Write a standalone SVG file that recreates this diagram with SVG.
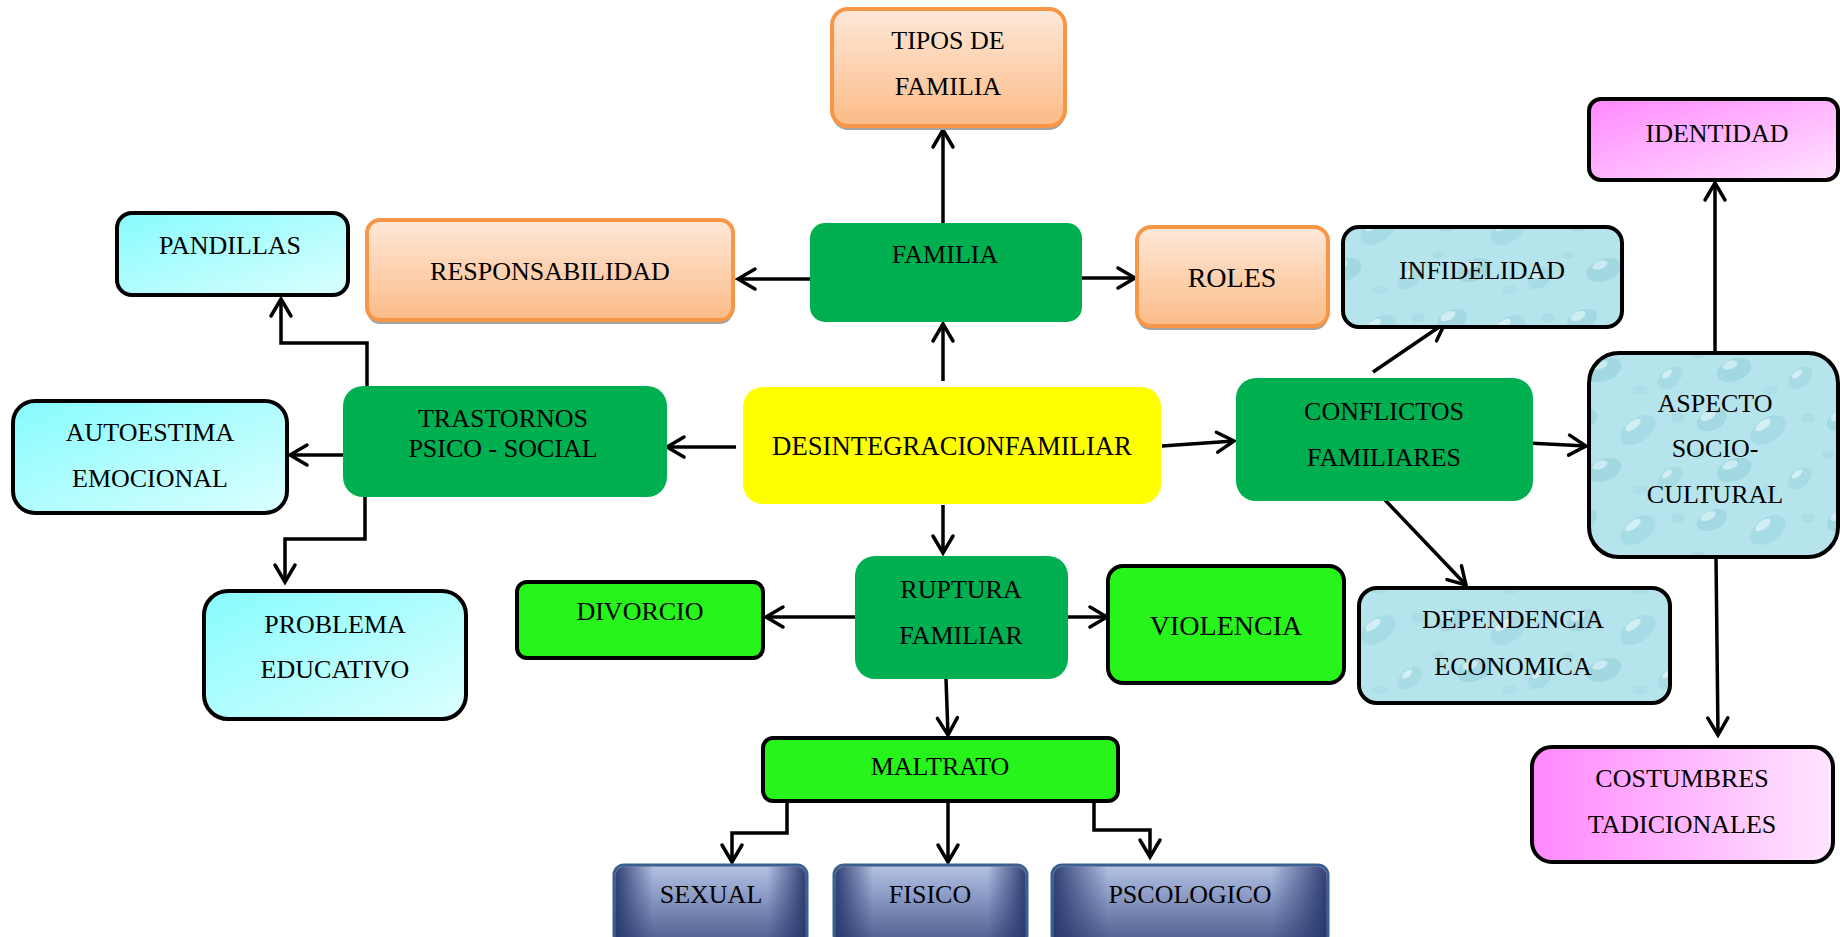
<svg xmlns="http://www.w3.org/2000/svg" width="1840" height="937" viewBox="0 0 1840 937">
<style>
text{font-family:"Liberation Serif","Times New Roman",serif;font-size:26px;fill:#000;text-anchor:middle}
.big{font-size:28px}
.orange{fill:url(#gOrange);stroke:#f79646;stroke-width:4}
.shadow{fill:#a3a3a3}
.green{fill:#00b050}
.yellow{fill:#ffff00}
.lime{fill:#26f41b;stroke:#000;stroke-width:4}
.cyan{fill:url(#gCyan);stroke:#000;stroke-width:4}
.water{fill:url(#pWater);stroke:#000;stroke-width:4}
.pinkD{fill:url(#gPinkD);stroke:#000;stroke-width:4}
.pinkH{fill:url(#gPinkH);stroke:#000;stroke-width:4}
.navy{fill:url(#gNavyV);stroke:#3b5f8f;stroke-width:3}
.navyEdge{fill:url(#gNavyH);stroke:none}
.conn path,.conn line{fill:none;stroke:#000;stroke-width:3.5;marker-end:url(#arr)}
</style>
<defs>
<marker id="arr" markerUnits="userSpaceOnUse" markerWidth="40" markerHeight="40" viewBox="-20 -20 40 40" refX="0" refY="0" orient="auto" overflow="visible">
<path d="M-17,-10 L0,0 L-17,10" fill="none" stroke="#000" stroke-width="3.5" stroke-linecap="round" stroke-linejoin="miter"/>
</marker>
<linearGradient id="gOrange" x1="0" y1="0" x2="0" y2="1">
<stop offset="0" stop-color="#fee8d9"/><stop offset="1" stop-color="#fbbb87"/>
</linearGradient>
<linearGradient id="gCyan" x1="0" y1="0" x2="1" y2="1">
<stop offset="0" stop-color="#86fbfd"/><stop offset="1" stop-color="#dcffff"/>
</linearGradient>
<linearGradient id="gPinkD" x1="0" y1="0" x2="1" y2="1">
<stop offset="0" stop-color="#ff88ff"/><stop offset="1" stop-color="#ffe3ff"/>
</linearGradient>
<linearGradient id="gPinkH" x1="0" y1="0" x2="1" y2="0">
<stop offset="0" stop-color="#ff88ff"/><stop offset="1" stop-color="#ffe6ff"/>
</linearGradient>
<linearGradient id="gNavyV" x1="0" y1="0" x2="0" y2="1">
<stop offset="0" stop-color="#b4c2e2"/><stop offset="0.45" stop-color="#8595c0"/><stop offset="1" stop-color="#4a5a8a"/>
</linearGradient>
<linearGradient id="gNavyH" x1="0" y1="0" x2="1" y2="0">
<stop offset="0" stop-color="#24336a" stop-opacity="0.9"/><stop offset="0.2" stop-color="#24336a" stop-opacity="0"/><stop offset="0.8" stop-color="#24336a" stop-opacity="0"/><stop offset="1" stop-color="#24336a" stop-opacity="0.9"/>
</linearGradient>
<pattern id="pWater" patternUnits="userSpaceOnUse" width="130" height="100">
<rect width="130" height="100" fill="#b6e4ec"/>
<ellipse cx="22" cy="20" rx="16" ry="10" fill="#95d0dc" opacity="0.55" transform="rotate(-25 22 20)"/>
<ellipse cx="18" cy="16" rx="8" ry="4" fill="#e0f6fa" opacity="0.7" transform="rotate(-25 18 16)"/>
<ellipse cx="78" cy="30" rx="20" ry="12" fill="#98d3df" opacity="0.5" transform="rotate(-35 78 30)"/>
<ellipse cx="73" cy="25" rx="9" ry="4" fill="#e4f7fa" opacity="0.7" transform="rotate(-35 73 25)"/>
<ellipse cx="44" cy="70" rx="18" ry="11" fill="#8ecbd8" opacity="0.5" transform="rotate(-20 44 70)"/>
<ellipse cx="40" cy="65" rx="8" ry="4" fill="#dcf4f8" opacity="0.7" transform="rotate(-20 40 65)"/>
<ellipse cx="110" cy="78" rx="14" ry="9" fill="#9ad5e0" opacity="0.55" transform="rotate(-40 110 78)"/>
<ellipse cx="107" cy="74" rx="6" ry="3" fill="#e4f7fa" opacity="0.7" transform="rotate(-40 107 74)"/>
<ellipse cx="118" cy="18" rx="7" ry="5" fill="#a3d9e3" opacity="0.6"/>
<ellipse cx="8" cy="55" rx="6" ry="4" fill="#a3d9e3" opacity="0.6"/>
<ellipse cx="80" cy="90" rx="8" ry="5" fill="#a3d9e3" opacity="0.5"/>
</pattern>
</defs>

<g id="connectors" class="conn">
<line x1="943" y1="223" x2="943" y2="130"/>
<line x1="810" y1="279" x2="738" y2="279"/>
<line x1="1082" y1="278" x2="1135" y2="278"/>
<line x1="943" y1="381" x2="943" y2="324"/>
<line x1="736" y1="447" x2="667" y2="447"/>
<line x1="1162" y1="446" x2="1234" y2="441"/>
<line x1="943" y1="505" x2="943" y2="553"/>
<path d="M367,386 V343 H281 V299"/>
<line x1="343" y1="455" x2="290" y2="455"/>
<path d="M365,497 V539 H285 V582"/>
<line x1="1373" y1="372" x2="1445" y2="323"/>
<line x1="1528" y1="443" x2="1586" y2="446"/>
<line x1="1385" y1="500" x2="1466" y2="585"/>
<line x1="1715" y1="353" x2="1715" y2="183"/>
<line x1="1716" y1="557" x2="1718" y2="735"/>
<line x1="855" y1="617" x2="766" y2="617"/>
<line x1="1068" y1="617" x2="1107" y2="617"/>
<line x1="946" y1="679" x2="948" y2="735"/>
<path d="M787,801 V833 H732 V862"/>
<line x1="948" y1="801" x2="948" y2="862"/>
<path d="M1094,801 V830 H1150 V857"/>
</g>

<g id="tipos">
<rect class="shadow" x="832" y="12" width="233" height="118" rx="16"/>
<rect class="orange" x="832" y="9" width="233" height="117" rx="16"/>
<text x="948" y="49">TIPOS DE</text>
<text x="948" y="95">FAMILIA</text>
</g>
<g id="responsabilidad">
<rect class="shadow" x="367" y="223" width="366" height="101" rx="13"/>
<rect class="orange" x="367" y="220" width="366" height="100" rx="13"/>
<text x="550" y="280">RESPONSABILIDAD</text>
</g>
<g id="familia">
<rect class="green" x="810" y="223" width="272" height="99" rx="15"/>
<text x="945" y="263">FAMILIA</text>
</g>
<g id="roles">
<rect class="shadow" x="1137" y="230" width="191" height="100" rx="14"/>
<rect class="orange" x="1137" y="227" width="191" height="99" rx="14"/>
<text class="big" x="1232" y="287">ROLES</text>
</g>
<g id="infidelidad">
<rect class="water" x="1343" y="227" width="279" height="100" rx="16"/>
<text x="1482" y="279">INFIDELIDAD</text>
</g>
<g id="identidad">
<rect class="pinkD" x="1589" y="99" width="249" height="81" rx="12"/>
<text x="1717" y="142">IDENTIDAD</text>
</g>
<g id="pandillas">
<rect class="cyan" x="117" y="213" width="231" height="82" rx="15"/>
<text x="230" y="254">PANDILLAS</text>
</g>
<g id="autoestima">
<rect class="cyan" x="13" y="401" width="274" height="112" rx="22"/>
<text x="150" y="441">AUTOESTIMA</text>
<text x="150" y="487">EMOCIONAL</text>
</g>
<g id="trastornos">
<rect class="green" x="343" y="386" width="324" height="111" rx="20"/>
<text x="503" y="427">TRASTORNOS</text>
<text x="503" y="457">PSICO - SOCIAL</text>
</g>
<g id="desintegracion">
<rect class="yellow" x="743" y="387" width="418" height="117" rx="20"/>
<text x="952" y="455" style="font-size:26.7px">DESINTEGRACIONFAMILIAR</text>
</g>
<g id="conflictos">
<rect class="green" x="1236" y="378" width="297" height="123" rx="20"/>
<text x="1384" y="420">CONFLICTOS</text>
<text x="1384" y="466">FAMILIARES</text>
</g>
<g id="aspecto">
<rect class="water" x="1589" y="353" width="249" height="204" rx="30"/>
<text x="1715" y="412">ASPECTO</text>
<text x="1715" y="457">SOCIO-</text>
<text x="1715" y="503">CULTURAL</text>
</g>
<g id="problema">
<rect class="cyan" x="204" y="591" width="262" height="128" rx="24"/>
<text x="335" y="633">PROBLEMA</text>
<text x="335" y="678">EDUCATIVO</text>
</g>
<g id="divorcio">
<rect class="lime" x="517" y="582" width="246" height="76" rx="10"/>
<text x="640" y="620">DIVORCIO</text>
</g>
<g id="ruptura">
<rect class="green" x="855" y="556" width="213" height="123" rx="20"/>
<text x="961" y="598">RUPTURA</text>
<text x="961" y="644">FAMILIAR</text>
</g>
<g id="violencia">
<rect class="lime" x="1108" y="566" width="236" height="117" rx="15"/>
<text class="big" x="1226" y="635">VIOLENCIA</text>
</g>
<g id="dependencia">
<rect class="water" x="1359" y="588" width="311" height="115" rx="18"/>
<text x="1513" y="628">DEPENDENCIA</text>
<text x="1513" y="675">ECONOMICA</text>
</g>
<g id="costumbres">
<rect class="pinkH" x="1532" y="747" width="301" height="115" rx="20"/>
<text x="1682" y="787">COSTUMBRES</text>
<text x="1682" y="833">TADICIONALES</text>
</g>
<g id="maltrato">
<rect class="lime" x="763" y="738" width="355" height="63" rx="10"/>
<text x="940" y="775">MALTRATO</text>
</g>
<g id="sexual">
<rect class="navy" x="614" y="865" width="193" height="80" rx="10"/>
<rect class="navyEdge" x="615.5" y="866.5" width="190" height="77" rx="9"/>
<text x="711" y="903">SEXUAL</text>
</g>
<g id="fisico">
<rect class="navy" x="834" y="865" width="193" height="80" rx="10"/>
<rect class="navyEdge" x="835.5" y="866.5" width="190" height="77" rx="9"/>
<text x="930" y="903">FISICO</text>
</g>
<g id="pscologico">
<rect class="navy" x="1052" y="865" width="276" height="80" rx="10"/>
<rect class="navyEdge" x="1053.5" y="866.5" width="273" height="77" rx="9"/>
<text x="1190" y="903">PSCOLOGICO</text>
</g>
</svg>
